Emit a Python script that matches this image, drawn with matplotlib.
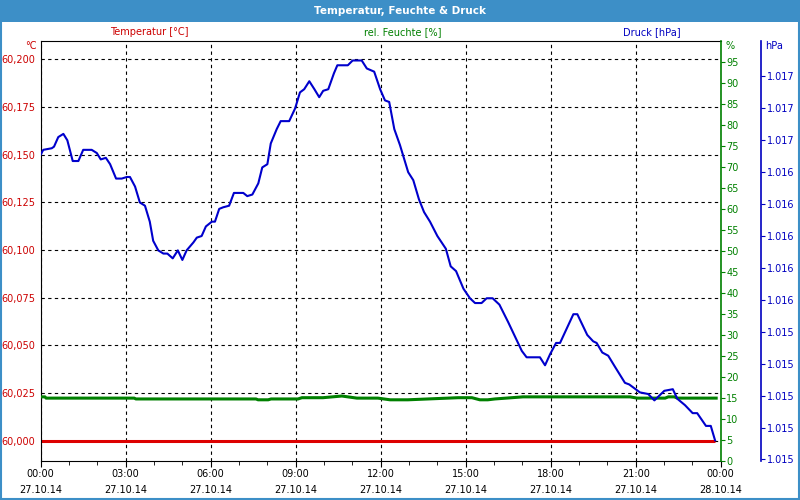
import numpy as np
import pandas as pd
import matplotlib
matplotlib.use("Agg")
import matplotlib.pyplot as plt
import matplotlib.dates as mdates
from matplotlib.patches import Rectangle
from matplotlib.ticker import FuncFormatter, MultipleLocator

# --- data ---
start = pd.Timestamp("2014-10-27 00:00")

# pressure [hPa]
p_hours = [0.00, 0.09, 0.39, 0.47, 0.62, 0.80, 0.94, 1.13, 1.33, 1.50, 1.64, 1.80, 1.98, 2.12,
           2.30, 2.45, 2.66, 2.86, 3.04, 3.15, 3.33, 3.50, 3.68, 3.85, 3.97, 4.15, 4.33, 4.47,
           4.66, 4.84, 5.00, 5.15, 5.39, 5.51, 5.68, 5.83, 6.04, 6.15, 6.30, 6.44, 6.65, 6.82,
           7.15, 7.29, 7.47, 7.68, 7.82, 8.00, 8.12, 8.33, 8.47, 8.77, 8.98, 9.15, 9.30, 9.48,
           9.66, 9.83, 9.97, 10.15, 10.35, 10.47, 10.84, 11.01, 11.33, 11.51, 11.77, 11.98,
           12.15, 12.30, 12.48, 12.68, 12.97, 13.15, 13.35, 13.53, 13.74, 14.00, 14.30, 14.47,
           14.66, 14.92, 15.15, 15.33, 15.56, 15.74, 15.95, 16.19, 16.50, 16.74, 16.98, 17.15,
           17.62, 17.80, 17.98, 18.19, 18.33, 18.80, 18.94, 19.29, 19.50, 19.62, 19.82, 20.03,
           20.27, 20.62, 20.77, 21.15, 21.44, 21.66, 22.01, 22.31, 22.47, 22.74, 23.01, 23.17,
           23.48, 23.65, 23.80]
pressure = [1016.51, 1016.54, 1016.55, 1016.56, 1016.62, 1016.64, 1016.60, 1016.47, 1016.47,
            1016.54, 1016.54, 1016.54, 1016.52, 1016.48, 1016.49, 1016.45, 1016.36, 1016.36,
            1016.37, 1016.37, 1016.31, 1016.21, 1016.19, 1016.09, 1015.97, 1015.91, 1015.89,
            1015.89, 1015.86, 1015.91, 1015.85, 1015.91, 1015.96, 1015.99, 1016.00, 1016.06,
            1016.09, 1016.09, 1016.17, 1016.18, 1016.19, 1016.27, 1016.27, 1016.25, 1016.26,
            1016.33, 1016.43, 1016.45, 1016.58, 1016.67, 1016.72, 1016.72, 1016.80, 1016.90,
            1016.92, 1016.97, 1016.92, 1016.87, 1016.91, 1016.92, 1017.02, 1017.07, 1017.07,
            1017.10, 1017.10, 1017.05, 1017.03, 1016.92, 1016.85, 1016.84, 1016.67, 1016.57,
            1016.40, 1016.35, 1016.23, 1016.15, 1016.09, 1016.00, 1015.92, 1015.81, 1015.78,
            1015.67, 1015.61, 1015.58, 1015.58, 1015.61, 1015.61, 1015.57, 1015.46, 1015.37,
            1015.28, 1015.24, 1015.24, 1015.19, 1015.26, 1015.33, 1015.33, 1015.51, 1015.51,
            1015.38, 1015.34, 1015.33, 1015.27, 1015.25, 1015.18, 1015.08, 1015.07, 1015.02,
            1015.01, 1014.97, 1015.03, 1015.04, 1014.98, 1014.94, 1014.89, 1014.89, 1014.81,
            1014.81, 1014.72]

# relative humidity [%]
h_hours = [0.00, 0.15, 0.19, 3.30, 3.36, 7.60, 7.67, 8.03, 8.13, 9.08, 9.22, 9.96, 10.63,
           11.16, 11.90, 12.33, 12.96, 14.73, 15.22, 15.50, 15.78, 16.03, 17.02, 20.80, 21.05,
           22.04, 22.15, 22.36, 22.47, 23.84]
humidity = [15.2, 15.2, 14.9, 14.9, 14.7, 14.7, 14.5, 14.5, 14.7, 14.7, 15.0, 15.0, 15.4,
            14.9, 14.9, 14.5, 14.5, 15.0, 15.0, 14.5, 14.5, 14.7, 15.2, 15.2, 14.9, 14.9,
            15.2, 15.2, 14.9, 14.9]

# temperature [°C] (sensor stuck at 60,000)
t_hours = [0.00, 23.80]
temperature = [60.000, 60.000]

RED = "#cc0000"
GREEN = "#008000"
BLUE = "#0000c0"
FS = 7


def to_time(hours):
    return start + pd.to_timedelta(hours, unit="h")


fig = plt.figure(figsize=(8, 5), dpi=100)
fig.patch.set_facecolor("white")

# window title bar + border
fig.patches.append(Rectangle((0, 1 - 22 / 500), 1, 22 / 500, transform=fig.transFigure,
                             facecolor="#3d8fc7", edgecolor="none", zorder=0))
fig.patches.append(Rectangle((0.001, 0.002), 0.998, 0.996, transform=fig.transFigure,
                             facecolor="none", edgecolor="#3d8fc7", linewidth=1.5, zorder=0))
fig.text(0.5, 1 - 11 / 500, "Temperatur, Feuchte & Druck", color="white", fontsize=7.5,
         fontweight="bold", ha="center", va="center")

ax = fig.add_axes([40.7 / 800, 39.3 / 500, 680 / 800, 420 / 500])
ax2 = ax.twinx()
ax3 = ax.twinx()

# temperature (left axis)
ax.plot(to_time(t_hours), temperature, color="#dd0000", lw=2.2, solid_capstyle="butt")
ax.set_ylim(59.9895, 60.2098)
ax.yaxis.set_major_locator(MultipleLocator(0.025))
ax.yaxis.set_major_formatter(FuncFormatter(lambda v, _: f"{v:.3f}".replace(".", ",")))
ax.tick_params(axis="y", colors=RED, labelsize=FS, length=0, pad=4)

ax.set_xlim(start, start + pd.Timedelta(hours=24))
ax.xaxis.set_major_locator(mdates.HourLocator(byhour=range(0, 24, 3)))
ax.xaxis.set_minor_locator(mdates.HourLocator())
ax.xaxis.set_major_formatter(mdates.DateFormatter("%H:%M\n%d.%m.%y"))
ax.tick_params(axis="x", which="major", labelsize=FS, length=4, pad=2, colors="black")
ax.tick_params(axis="x", which="minor", length=3)
for lbl in ax.get_xticklabels():
    lbl.set_linespacing(1.7)

ax.grid(True, which="major", color="black", linestyle=(0, (3, 3)), linewidth=0.8)
ax.spines["right"].set_visible(False)
for s in ("left", "top", "bottom"):
    ax.spines[s].set_color("black")

# humidity (green right axis)
ax2.plot(to_time(h_hours), humidity, color=GREEN, lw=2.2)
ax2.set_ylim(0, 100)
ax2.set_yticks(np.arange(0, 96, 5))
ax2.tick_params(axis="y", colors=GREEN, labelsize=FS, length=3, pad=1)
for s in ("left", "top", "bottom"):
    ax2.spines[s].set_visible(False)
ax2.spines["right"].set_color(GREEN)
ax2.spines["right"].set_linewidth(1.2)

# pressure (blue outer axis)
ax3.plot(to_time(p_hours), pressure, color="#0000cc", lw=1.5)
ax3.set_ylim(1014.592, 1017.224)
ax3.set_yticks(np.arange(1014.6, 1017.01, 0.2))
ax3.yaxis.set_major_formatter(FuncFormatter(lambda v, _: f"{round(v):,}".replace(",", ".")))
ax3.tick_params(axis="y", colors=BLUE, labelsize=FS, length=3, pad=1)
ax3.spines["right"].set_position(("axes", (761 - 40.7) / 680))
ax3.spines["right"].set_color(BLUE)
ax3.spines["right"].set_linewidth(1.2)
for s in ("left", "top", "bottom"):
    ax3.spines[s].set_visible(False)

# series captions and unit labels
cap_y = 1 - 32 / 500
fig.text(149 / 800, cap_y, "Temperatur [°C]", color=RED, fontsize=FS, ha="center", va="center")
fig.text(403 / 800, cap_y, "rel. Feuchte [%]", color=GREEN, fontsize=FS, ha="center", va="center")
fig.text(652 / 800, cap_y, "Druck [hPa]", color=BLUE, fontsize=FS, ha="center", va="center")
unit_y = 1 - 46 / 500
fig.text(37 / 800, unit_y, "°C", color=RED, fontsize=FS, ha="right", va="center")
fig.text(725 / 800, unit_y, "%", color=GREEN, fontsize=FS, ha="left", va="center")
fig.text(765 / 800, unit_y, "hPa", color=BLUE, fontsize=FS, ha="left", va="center")

fig.savefig("out.png", dpi=100)
